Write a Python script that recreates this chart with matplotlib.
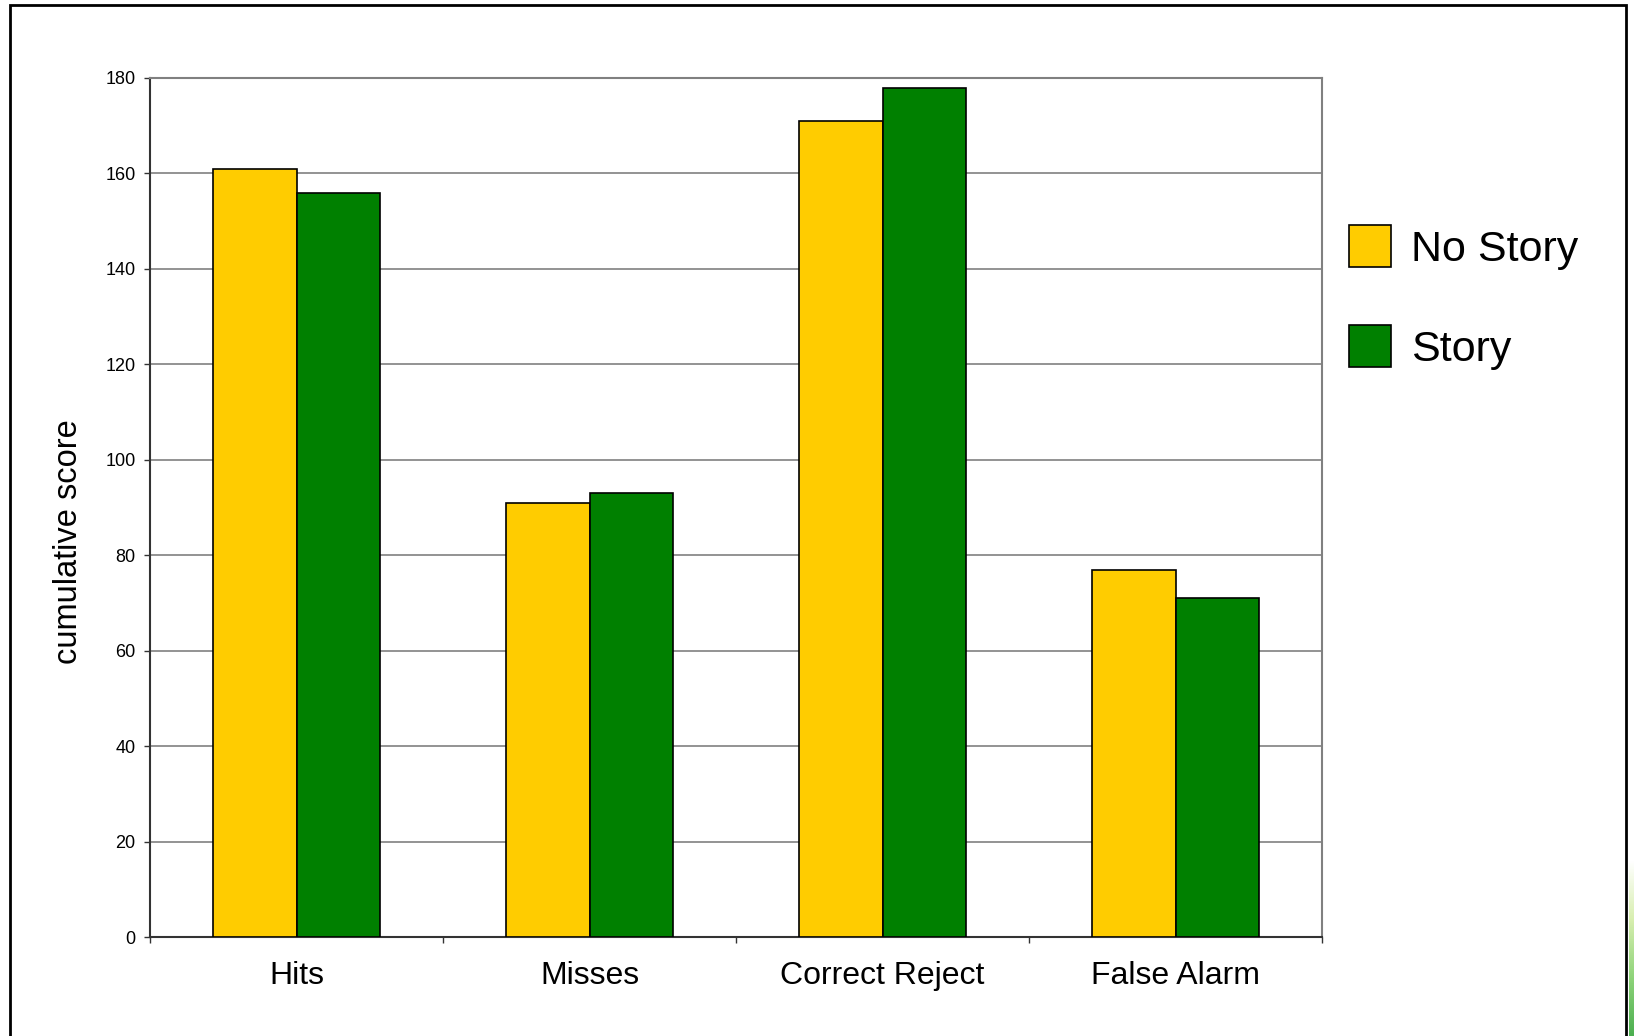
import matplotlib
matplotlib.use("Agg")
import matplotlib.pyplot as plt
from matplotlib.patches import Rectangle, Patch
from matplotlib.colors import LinearSegmentedColormap
import numpy as np

categories = ["Hits", "Misses", "Correct Reject", "False Alarm"]
no_story = [161, 91, 171, 77]
story = [156, 93, 178, 71]
series_names = ["No Story", "Story"]
y_ticks = [0, 20, 40, 60, 80, 100, 120, 140, 160, 180]

YELLOW = "#FFCC00"
GREEN = "#008000"
GRID = "#808080"

plt.rcParams['font.family'] = ['Liberation Sans', 'DejaVu Sans']

W, H = 1634, 1036
fig = plt.figure(figsize=(W / 100, H / 100), dpi=100)
fig.patch.set_facecolor("white")

# outer chart frame
fig.patches.append(Rectangle((10 / W, -0.02), (1626 - 10) / W, (H - 5) / H + 0.02,
                             transform=fig.transFigure, fill=False,
                             edgecolor="black", linewidth=2))

ax = fig.add_axes([150 / W, (H - 937) / H, (1322 - 150) / W, (937 - 78) / H])

x = np.arange(len(categories))
bw = 2 / 7.0
ax.bar(x - bw / 2, no_story, width=bw, color=YELLOW, edgecolor="black", linewidth=1.2, zorder=3)
ax.bar(x + bw / 2, story, width=bw, color=GREEN, edgecolor="black", linewidth=1.2, zorder=3)

ax.set_xlim(-0.5, len(categories) - 0.5)
ax.set_ylim(0, 180)
ax.set_yticks(y_ticks)
ax.set_yticklabels([str(v) for v in y_ticks], fontsize=13)
ax.yaxis.grid(True, color=GRID, linewidth=1.2, zorder=0)
ax.set_axisbelow(True)

ax.set_xticks(x)
ax.set_xticklabels(categories, fontsize=23)
ax.set_xticks(np.arange(-0.5, len(categories)), minor=True)
ax.tick_params(axis="x", which="major", length=0, pad=17.5)
ax.tick_params(axis="x", which="minor", length=4, width=1, color="#333333")
ax.tick_params(axis="y", length=4.5, width=1, color="#333333", pad=6)

for side in ["top", "right"]:
    ax.spines[side].set_color(GRID)
    ax.spines[side].set_linewidth(1.5)
for side in ["left", "bottom"]:
    ax.spines[side].set_color("#333333")
    ax.spines[side].set_linewidth(1.5)

ax.set_ylabel("cumulative score", fontsize=23.5)
ax.yaxis.set_label_coords(84 / W, (H - 542) / H, transform=fig.transFigure)

handles = [Patch(facecolor=YELLOW, edgecolor="black", linewidth=1.2),
           Patch(facecolor=GREEN, edgecolor="black", linewidth=1.2)]
fig.legend(handles, series_names, loc="upper left",
           bbox_to_anchor=(1349 / W, (H - 225) / H), frameon=False,
           fontsize=31, handlelength=0.98, handleheight=1.13,
           handletextpad=0.45, labelspacing=1.29, borderpad=0, borderaxespad=0)

# green gradient strip at the far right edge
strip = fig.add_axes([1629 / W, 0, 5 / W, (H - 860) / H])
cmap = LinearSegmentedColormap.from_list("strip", ["#ffffff", "#d8efb0", "#8fd47a", "#4caf50"])
strip.imshow(np.linspace(0, 1, 100).reshape(-1, 1), aspect="auto", cmap=cmap)
strip.axis("off")

fig.savefig("out.png", dpi=100)
